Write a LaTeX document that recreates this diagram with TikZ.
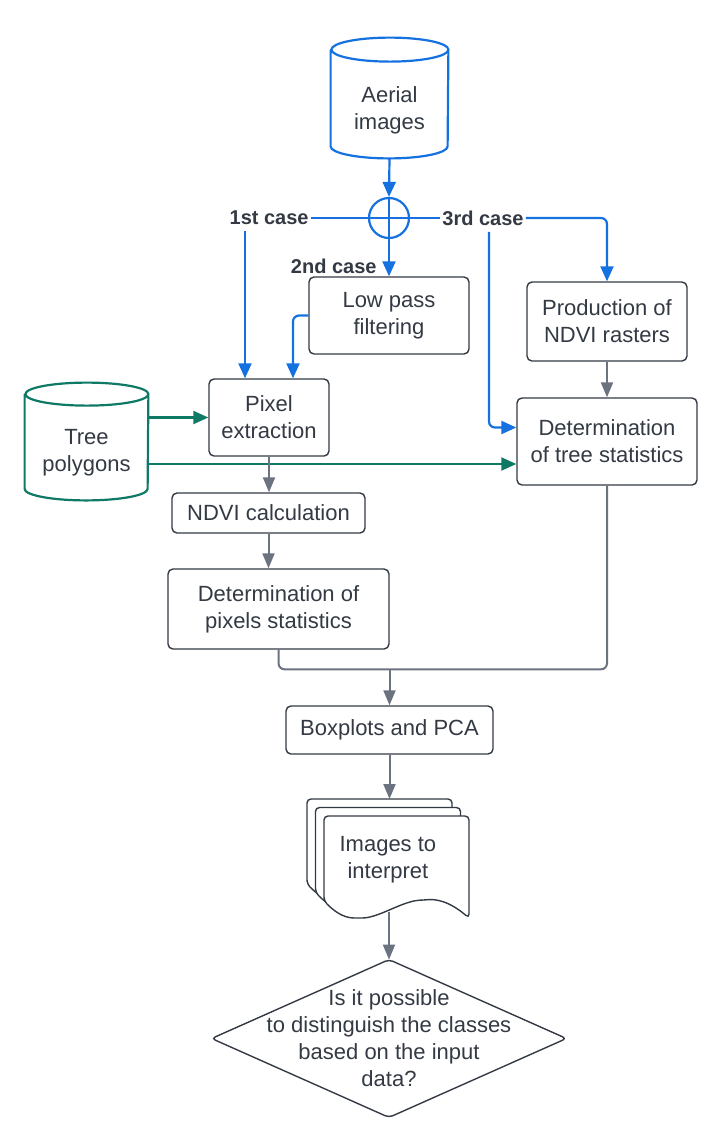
\documentclass[tikz,border=0pt]{standalone}
\usepackage{fontspec}
\setmainfont{Liberation Sans}
\usetikzlibrary{arrows.meta, positioning, calc}

\definecolor{txtgray}{RGB}{51,58,68}
\definecolor{linegray}{RGB}{107,114,128}
\definecolor{lucidblue}{RGB}{21,112,224}
\definecolor{lucidgreen}{RGB}{14,122,102}

\begin{document}
\begin{tikzpicture}[x=0.5pt, y=-0.5pt,
  every node/.style={font=\fontsize{11}{13.5}\selectfont, text=txtgray, align=center},
  procbox/.style={draw=txtgray, line width=0.7pt, rectangle, rounded corners=2.5pt, fill=white},
  caselabel/.style={font=\fontsize{10}{12}\selectfont\bfseries, inner sep=1pt},
  docpage/.style={draw=txtgray, line width=0.7pt, fill=white, rounded corners=2pt},
  blueline/.style={draw=lucidblue, line width=1.1pt},
  bluearrow/.style={blueline, -{Triangle[length=7.5pt, width=6.5pt]}},
  greenline/.style={draw=lucidgreen, line width=1.1pt},
  greenarrow/.style={greenline, -{Triangle[length=7.5pt, width=6.5pt]}},
  grayline/.style={draw=linegray, line width=1pt},
  grayarrow/.style={grayline, -{Triangle[length=7.5pt, width=6pt]}}]
  \useasboundingbox (0,0) rectangle (726,1137);

  % Stacked pages
  \coordinate (stack) at (307,799);
  \foreach \d in {0,8.5,17} {
    \begin{scope}[shift={($(stack)+(\d,\d)$)}]
      \draw[docpage] (0,85) -- (0,0) -- (145,0) -- (145,102)
        .. controls (125,85) and (112,83) .. (100,84)
        .. controls (78,85) and (55,102) .. (34,102)
        .. controls (18,102) and (8,93) .. (0,85) -- cycle;
    \end{scope}
  }

  % Nodes
  \node[minimum width=58.5pt, minimum height=48pt] (aerial) at (389.5,110) {Aerial\\images};
  \node[draw=lucidblue, line width=1.1pt, circle, minimum size=20pt, inner sep=0pt] (combine) at (389,218) {};
  \node[caselabel, anchor=east] (case1) at (311,218) {1st case};
  \node[caselabel, anchor=west] (case3) at (440,218) {3rd case};
  \node[procbox, minimum width=80pt, minimum height=38.5pt] (lowpass) at (389,315.5) {Low pass\\filtering};
  \node[caselabel, anchor=south east] (case2) at ([xshift=-5pt]lowpass.north) {2nd case};
  \node[procbox, minimum width=80pt, minimum height=39.5pt] (ndviprod) at (607,321.5) {Production of\\NDVI rasters};
  \node[procbox, minimum width=60pt, minimum height=38.5pt] (pixel) at (269,417.5) {Pixel\\extraction};
  \node[minimum width=61.5pt, minimum height=47pt] (tree) at (86.5,453) {Tree\\polygons};
  \node[procbox, minimum width=90pt, minimum height=43.5pt] (dettree) at (607,441.5) {Determination\\of tree statistics};
  \node[procbox, minimum width=96.5pt, minimum height=20pt] (ndvicalc) at (268.5,513) {NDVI calculation};
  \node[procbox, minimum width=110.5pt, minimum height=40pt] (detpix) at (278.5,609) {Determination of\\pixels statistics};
  \node[procbox, minimum width=103.5pt, minimum height=24pt] (boxplots) at (389.5,730) {Boxplots and PCA};
  \node[minimum width=80.5pt, minimum height=60pt, anchor=north west] (images) at (stack) {Images to\\interpret};
  \node[minimum width=177pt, minimum height=78.5pt] (decision) at (389,1038.5) {Is it possible\\to distinguish the classes\\based on the input\\data?};

  % Outlines
  \draw[blueline] ([yshift=6pt]aerial.north west) -- ([yshift=6pt]aerial.south west)
    arc[start angle=180, end angle=360, x radius=29.25pt, y radius=6pt]
    -- ([yshift=6pt]aerial.north east)
    arc[start angle=0, end angle=360, x radius=29.25pt, y radius=6pt];
  \draw[greenline] ([yshift=5.75pt]tree.north west) -- ([yshift=5.75pt]tree.south west)
    arc[start angle=180, end angle=360, x radius=30.75pt, y radius=5.75pt]
    -- ([yshift=5.75pt]tree.north east)
    arc[start angle=0, end angle=360, x radius=30.75pt, y radius=5.75pt];
  \draw[draw=txtgray, line width=0.7pt, rounded corners=2pt] (decision.north) -- (decision.east) -- (decision.south) -- (decision.west) -- cycle;

  % Edges
  \draw[bluearrow] (aerial.south) -- (combine.north);
  \draw[blueline] (combine.north) -- (combine.south) (combine.west) -- (combine.east);
  \draw[blueline] (case1.east) -- (combine.west);
  \draw[blueline] (combine.east) -- (case3.west);
  \draw[bluearrow] (combine.south) -- (lowpass.north);
  \draw[bluearrow] ([xshift=-12pt, yshift=-2pt]pixel.north |- case1.south) -- ([xshift=-12pt]pixel.north);
  \draw[bluearrow, rounded corners=3pt] (lowpass.west) -| ([xshift=12pt]pixel.north);
  \draw[bluearrow, rounded corners=3pt] (case3.east) -| (ndviprod.north);
  \draw[bluearrow, rounded corners=3pt] ([xshift=3pt, yshift=-2pt]case3.south) |- ([yshift=7pt]dettree.west);
  \draw[greenarrow] (tree.east |- pixel.west) -- (pixel.west);
  \draw[greenarrow] ([yshift=-5.5pt]tree.east) -- ([yshift=-5.5pt]tree.east -| dettree.west);
  \draw[grayarrow] (ndviprod.south) -- (dettree.north);
  \draw[grayarrow] (pixel.south) -- (pixel.south |- ndvicalc.north);
  \draw[grayarrow] (ndvicalc.south) -- (ndvicalc.south |- detpix.north);
  \coordinate[above=18pt of boxplots.north] (merge);
  \draw[grayline, rounded corners=3pt] (detpix.south) |- (merge);
  \draw[grayline, rounded corners=3pt] (dettree.south) |- (merge);
  \draw[grayarrow] (merge) -- (boxplots.north);
  \draw[grayarrow] (boxplots.south) -- (boxplots.south |- images.north);
  \draw[grayarrow] ([yshift=4pt]images.south -| decision.north) -- (decision.north);
\end{tikzpicture}
\end{document}
